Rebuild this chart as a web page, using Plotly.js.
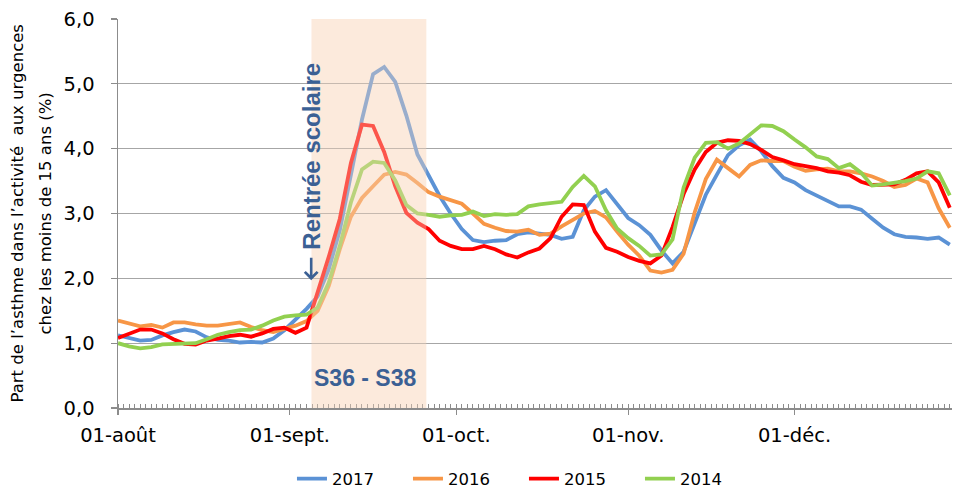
<!DOCTYPE html>
<html>
<head>
<meta charset="utf-8">
<script src="https://cdn.plot.ly/plotly-3.0.1.min.js"></script>
<style>html,body{margin:0;padding:0;background:#fff;}#chart{width:954px;height:488px;}</style>
</head>
<body>
<div id="chart"></div>
<script>
// Day offsets from 1 August (sampled every 2 days)
const dayOffsets = [0,2,4,6,8,10,12,14,16,18,20,22,24,26,28,30,32,34,36,38,40,42,44,46,48,50,52,54,56,58,60,62,64,66,68,70,72,74,76,78,80,82,84,86,88,90,92,94,96,98,100,102,104,106,108,110,112,114,116,118,120,122,124,126,128,130,132,134,136,138,140,142,144,146,148,150];

const tickDays = [0,31,61,92,122];
const tickLabels = ['01-août','01-sept.','01-oct.','01-nov.','01-déc.'];

const seriesNames = ['2017','2016','2015','2014'];
const seriesColors = ['#5B92D5','#F79646','#FF0000','#92D050'];

const v2017 = [1.12,1.08,1.04,1.05,1.12,1.17,1.21,1.18,1.09,1.05,
               1.04,1.01,1.02,1.01,1.07,1.20,1.36,1.53,1.72,2.14,
               2.74,3.60,4.45,5.15,5.26,5.03,4.51,3.91,3.58,3.27,
               3.00,2.76,2.59,2.56,2.58,2.59,2.68,2.71,2.69,2.67,
               2.61,2.64,3.05,3.26,3.36,3.15,2.93,2.82,2.67,2.43,
               2.23,2.41,2.85,3.29,3.60,3.90,4.05,4.14,3.96,3.73,
               3.55,3.48,3.36,3.28,3.20,3.11,3.11,3.06,2.92,2.78,
               2.68,2.64,2.63,2.61,2.63,2.52];
const v2016 = [1.35,1.31,1.26,1.28,1.24,1.32,1.32,1.29,1.27,1.27,
               1.30,1.32,1.25,1.20,1.17,1.22,1.27,1.34,1.50,1.88,
               2.45,2.95,3.24,3.42,3.60,3.64,3.60,3.47,3.33,3.26,
               3.21,3.15,3.00,2.84,2.78,2.73,2.72,2.75,2.67,2.69,
               2.80,2.90,3.00,3.04,2.94,2.72,2.52,2.35,2.12,2.09,
               2.13,2.38,3.02,3.53,3.83,3.70,3.57,3.75,3.82,3.81,
               3.81,3.72,3.66,3.68,3.69,3.65,3.65,3.62,3.57,3.50,
               3.41,3.44,3.54,3.48,3.08,2.78];
const v2015 = [1.08,1.15,1.21,1.21,1.15,1.06,0.99,0.98,1.04,1.07,
               1.11,1.13,1.10,1.15,1.22,1.24,1.16,1.24,1.78,2.33,
               2.92,3.78,4.37,4.35,3.95,3.42,3.01,2.86,2.76,2.58,
               2.50,2.45,2.45,2.50,2.45,2.37,2.32,2.40,2.46,2.62,
               2.95,3.14,3.13,2.72,2.47,2.41,2.33,2.27,2.23,2.35,
               2.79,3.30,3.68,3.95,4.09,4.13,4.12,4.07,3.98,3.87,
               3.82,3.76,3.73,3.70,3.65,3.63,3.59,3.49,3.44,3.44,
               3.45,3.52,3.62,3.65,3.48,3.09];
const v2014 = [1.00,0.95,0.92,0.94,0.98,0.99,0.99,1.00,1.06,1.13,
               1.17,1.20,1.21,1.27,1.35,1.41,1.43,1.44,1.55,1.93,
               2.50,3.17,3.68,3.80,3.78,3.51,3.13,3.00,2.98,2.95,
               2.97,2.98,3.03,2.96,2.99,2.98,2.99,3.11,3.14,3.16,
               3.18,3.41,3.58,3.42,3.05,2.77,2.62,2.50,2.35,2.37,
               2.60,3.40,3.86,4.09,4.10,4.00,4.08,4.22,4.36,4.35,
               4.27,4.14,4.02,3.88,3.84,3.70,3.76,3.63,3.43,3.45,
               3.47,3.50,3.54,3.65,3.62,3.28];
const seriesValues = [v2017, v2016, v2015, v2014];

// School period S36 - S38 (day offsets)
const periodStart = 34.9;
const periodEnd = 55.6;

const traces = seriesNames.map((name, i) => ({
  type: 'scatter',
  mode: 'lines',
  name: name,
  x: dayOffsets,
  y: seriesValues[i],
  line: {color: seriesColors[i], width: 3.8},
  hoverinfo: 'skip'
}));

const accent = '#3B6094';

const layout = {
  width: 954,
  height: 488,
  margin: {l: 118, r: 2, t: 19, b: 80, pad: 0, autoexpand: false},
  paper_bgcolor: '#ffffff',
  plot_bgcolor: '#ffffff',
  separators: ', ',
  font: {family: 'DejaVu Sans', size: 16, color: '#000000'},
  showlegend: true,
  legend: {
    orientation: 'h',
    x: 0.2086, xanchor: 'left',
    y: -0.1825, yanchor: 'middle',
    font: {size: 16.5, color: '#000000'},
    entrywidth: 71, entrywidthmode: 'pixels',
    bgcolor: 'rgba(0,0,0,0)',
    traceorder: 'normal'
  },
  xaxis: {
    range: [0, 150.4],
    tickmode: 'array',
    tickvals: tickDays,
    ticktext: tickLabels,
    ticks: 'outside', ticklen: 5, tickcolor: '#8C8C8C', tickwidth: 1.2,
    ticklabelstandoff: 4,
    showline: true, linecolor: '#8C8C8C', linewidth: 1.5,
    showgrid: false, zeroline: false,
    tickfont: {size: 19.5, color: '#000000'},
    minor: {tickmode: 'linear', tick0: 0, dtick: 1, ticks: 'inside', ticklen: 4, tickcolor: '#8C8C8C', tickwidth: 1, showgrid: false},
    fixedrange: true
  },
  yaxis: {
    range: [0, 6],
    tickmode: 'linear', tick0: 0, dtick: 1,
    tickformat: '.1f',
    ticks: 'outside', ticklen: 6, tickcolor: '#8C8C8C', tickwidth: 1.2,
    ticklabelstandoff: 12,
    showline: true, linecolor: '#8C8C8C', linewidth: 1.5,
    showgrid: true, gridcolor: '#A6A6A6', gridwidth: 1.3,
    zeroline: false,
    tickfont: {size: 19.5, color: '#000000'},
    fixedrange: true
  },
  shapes: [
    {type: 'rect', xref: 'x', yref: 'paper', x0: periodStart, x1: periodEnd, y0: 0, y1: 1,
     fillcolor: '#FFF7F0', line: {width: 0}, layer: 'between'},
    {type: 'rect', xref: 'x', yref: 'paper', x0: periodStart, x1: periodEnd, y0: 0, y1: 1,
     fillcolor: '#F8D7BE', opacity: 0.4, line: {width: 0}, layer: 'above'}
  ],
  annotations: [
    {text: 'Part de l’asthme dans l’activité  aux urgences', xref: 'paper', yref: 'paper',
     x: (17 - 118) / 834, y: 0.5, xanchor: 'center', yanchor: 'middle', textangle: -90,
     showarrow: false, font: {size: 16.5, color: '#000000'}},
    {text: 'chez les moins de 15 ans (%)', xref: 'paper', yref: 'paper',
     x: (45 - 118) / 834, y: 0.5, xanchor: 'center', yanchor: 'middle', textangle: -90,
     showarrow: false, font: {size: 16.5, color: '#000000'}},
    {text: '<b>Rentrée scolaire</b>', xref: 'x', yref: 'y', x: 34.84, y: 3.88,
     xanchor: 'center', yanchor: 'middle', textangle: -90, showarrow: false,
     font: {family: 'Liberation Sans', size: 24, color: accent}},
    {text: '', xref: 'x', yref: 'y', x: 34.84, y: 1.97, ax: 0, ay: -24,
     showarrow: true, arrowhead: 4, arrowsize: 0.95, arrowwidth: 2.6, arrowcolor: accent},
    {text: '<b>S36 - S38</b>', xref: 'x', yref: 'y', x: 44.6, y: 0.463,
     xanchor: 'center', yanchor: 'middle', showarrow: false,
     font: {family: 'Liberation Sans', size: 23, color: accent}}
  ]
};

Plotly.newPlot('chart', traces, layout, {displayModeBar: false, staticPlot: true});
</script>
</body>
</html>
